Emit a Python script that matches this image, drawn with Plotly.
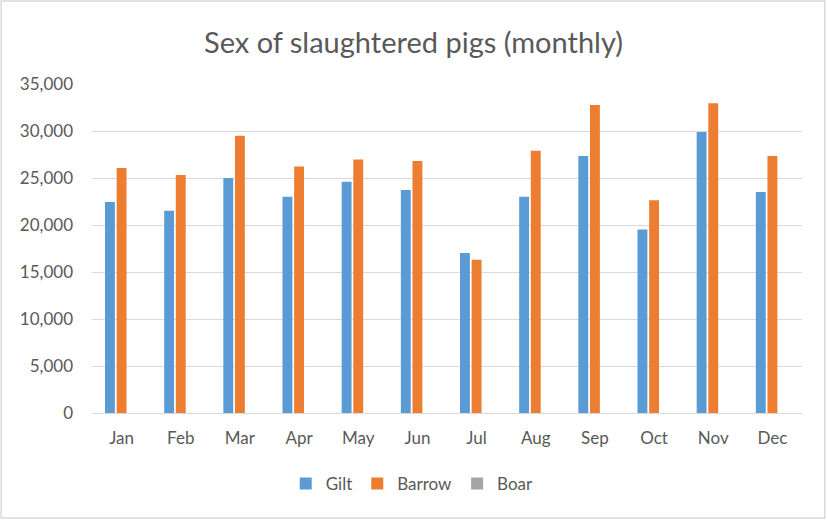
import plotly.graph_objects as go

months = ['Jan', 'Feb', 'Mar', 'Apr', 'May', 'Jun', 'Jul', 'Aug', 'Sep', 'Oct', 'Nov', 'Dec']
gilt = [22450, 21520, 25000, 23010, 24610, 23720, 17020, 23010, 27340, 19530, 29890, 23510]
barrow = [26060, 25320, 29500, 26230, 26980, 26810, 16310, 27900, 32770, 22620, 32940, 27340]
boar = [0, 0, 0, 0, 0, 0, 0, 0, 0, 0, 0, 0]

font_name = 'Lato, Open Sans, sans-serif'
grey_text = '#595959'

fig = go.Figure()

# three series, boar is basically zero so its bar doesn't show
fig.add_trace(go.Bar(x=months, y=gilt, name='Gilt', marker=dict(color='#5B9BD5', line=dict(width=0))))
fig.add_trace(go.Bar(x=months, y=barrow, name='Barrow', marker=dict(color='#ED7D31', line=dict(width=0))))
fig.add_trace(go.Bar(x=months, y=boar, name='Boar', marker=dict(color='#A5A5A5', line=dict(width=0))))

fig.update_layout(
    width=827, height=520,
    margin=dict(l=92, r=25, t=84, b=107),
    paper_bgcolor='white', plot_bgcolor='white',
    title=dict(text='Sex of slaughtered pigs (monthly)', x=0.5, xanchor='center', y=0.918, yanchor='middle',
               font=dict(family=font_name, size=29, color=grey_text)),
    barmode='group', bargap=0.41, bargroupgap=0.15,
    showlegend=True,
    legend=dict(orientation='h', x=0.451, xanchor='center', y=-0.216, yanchor='middle',
                font=dict(family=font_name, size=17, color=grey_text), traceorder='normal',
                itemwidth=30),
    font=dict(family=font_name, color=grey_text),
)

fig.update_yaxes(range=[0, 35000], dtick=5000, tickformat=',', showgrid=True, gridcolor='#d9d9d9',
                 gridwidth=1, zeroline=False, showline=False, ticks='',
                 tickfont=dict(family=font_name, size=17, color=grey_text), ticklabelstandoff=18)
fig.update_xaxes(showline=True, linecolor='#d9d9d9', linewidth=1, ticks='',
                 tickfont=dict(family=font_name, size=17, color=grey_text), ticklabelstandoff=10)

# light frame around the whole chart
fig.add_shape(type='rect', xref='paper', yref='paper', x0=-0.128, x1=1.032, y0=-0.319, y1=1.252,
              line=dict(color='#d9d9d9', width=1.5), fillcolor='rgba(0,0,0,0)')

fig.write_html('out.html', config={'displayModeBar': False},
               post_script="document.body.style.margin='0px';")
